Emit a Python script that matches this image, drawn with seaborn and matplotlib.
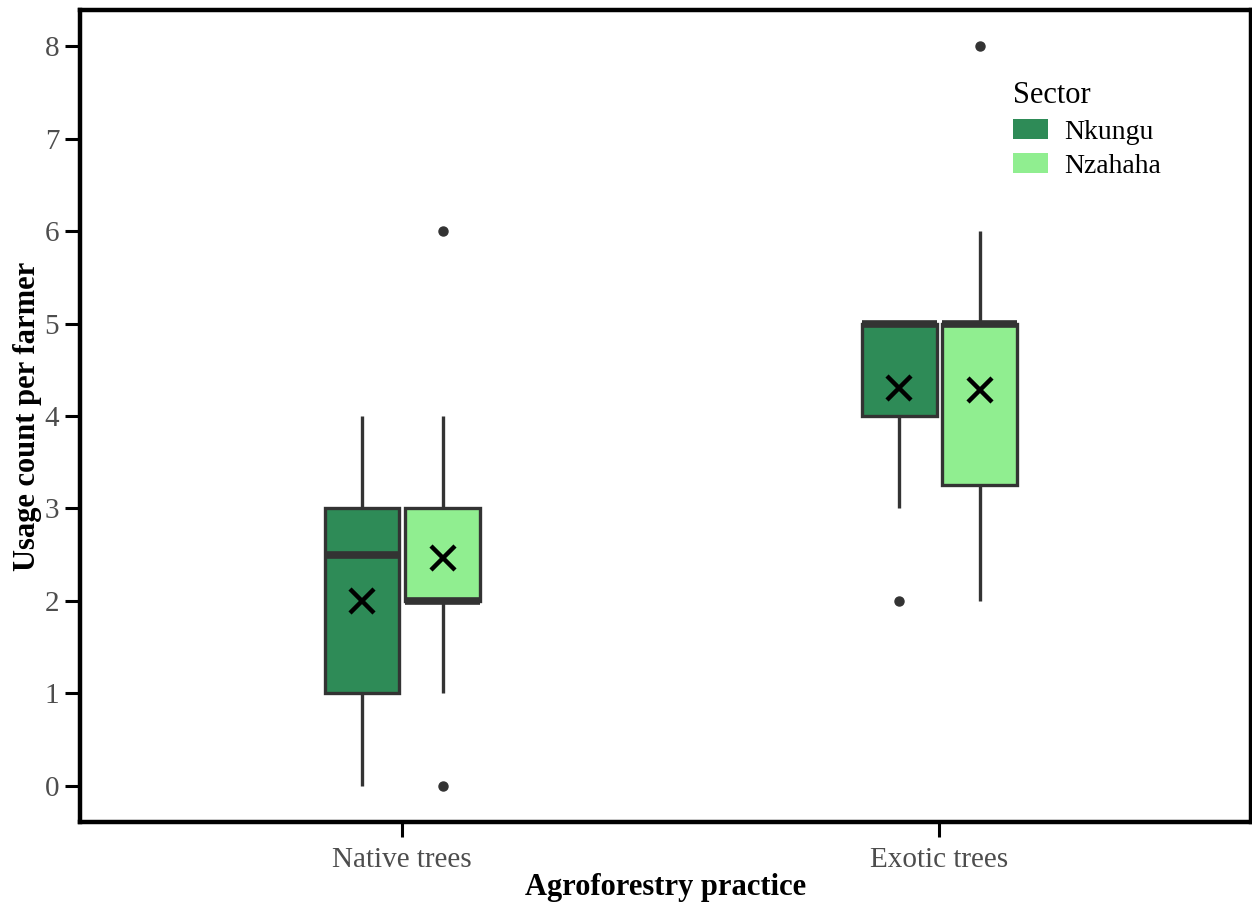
import pandas as pd
import matplotlib.pyplot as plt
import seaborn as sb
from matplotlib.patches import Patch

native_nkungu = [0, 0, 1, 1, 2, 3, 3, 3, 3, 4]
native_nzahaha = [0, 1, 2, 2, 2, 2, 2, 2, 2, 3, 3, 3, 3, 4, 6]
exotic_nkungu = [2, 3, 3, 4, 4, 5, 5, 5, 5, 5, 5, 5, 5]
exotic_nzahaha = [2, 2, 2, 2, 3, 4, 4, 4, 5, 5, 5, 5, 5, 5, 5, 5, 6, 8]

practicas = ['Native trees', 'Exotic trees']
setores = ['Nkungu', 'Nzahaha']
cores = ['#2E8B57', '#90EE90']
yticks = [0, 1, 2, 3, 4, 5, 6, 7, 8]

grupos = [
    ('Native trees', 'Nkungu', native_nkungu),
    ('Native trees', 'Nzahaha', native_nzahaha),
    ('Exotic trees', 'Nkungu', exotic_nkungu),
    ('Exotic trees', 'Nzahaha', exotic_nzahaha),
]
linhas = []
for prat, setor, vals in grupos:
    for v in vals:
        linhas.append({'practice': prat, 'Sector': setor, 'count': v})
df = pd.DataFrame(linhas)

sb.set_theme(style="white")
plt.rcParams['font.family'] = ['Liberation Serif', 'DejaVu Serif']

fig = plt.figure(figsize=(12.52, 9.05), dpi=100)
ax = fig.add_axes([80/1252, 83/905, 1171/1252, 812/905])

sb.boxplot(data=df, x='practice', y='count', hue='Sector', order=practicas,
           hue_order=setores, palette=cores, saturation=1, width=0.3, gap=0.07,
           linecolor='#333333', linewidth=2.4, ax=ax,
           showcaps=False, showmeans=True,
           medianprops={'linewidth': 5.5, 'color': '#333333', 'solid_capstyle': 'butt'},
           meanprops={'marker': 'x', 'markeredgecolor': 'black', 'markersize': 17,
                      'markeredgewidth': 3.2},
           flierprops={'marker': 'o', 'markerfacecolor': '#333333',
                       'markeredgecolor': '#333333', 'markersize': 6.5},
           legend=False)

ax.set_xlim(-0.6, 1.58)
ax.set_ylim(-0.39, 8.39)
ax.set_yticks(yticks)

for s in ax.spines.values():
    s.set_linewidth(3.2)
    s.set_color('black')
ax.tick_params(axis='both', length=11, width=2.2, color='black',
               labelsize=21, labelcolor='#4D4D4D', left=True, bottom=True)
ax.tick_params(axis='x', pad=7)
ax.tick_params(axis='y', pad=4)

ax.set_xlabel('Agroforestry practice', fontsize=22, fontweight='bold',
              color='black', labelpad=0)
ax.set_ylabel('Usage count per farmer', fontsize=22, fontweight='bold',
              color='black', labelpad=2)

handles = [Patch(facecolor=c, edgecolor='none') for c in cores]
leg = ax.legend(handles, setores, title='Sector', frameon=False,
                loc='upper left', bbox_to_anchor=(0.797, 0.912),
                fontsize=20, title_fontsize=22, handlelength=1.25,
                handleheight=0.75, handletextpad=0.6, labelspacing=0.3,
                borderpad=0, borderaxespad=0)
leg._legend_box.align = 'left'
for t in leg.get_texts():
    t.set_color('black')
leg.get_title().set_color('black')

plt.savefig('out.png', dpi=100)
